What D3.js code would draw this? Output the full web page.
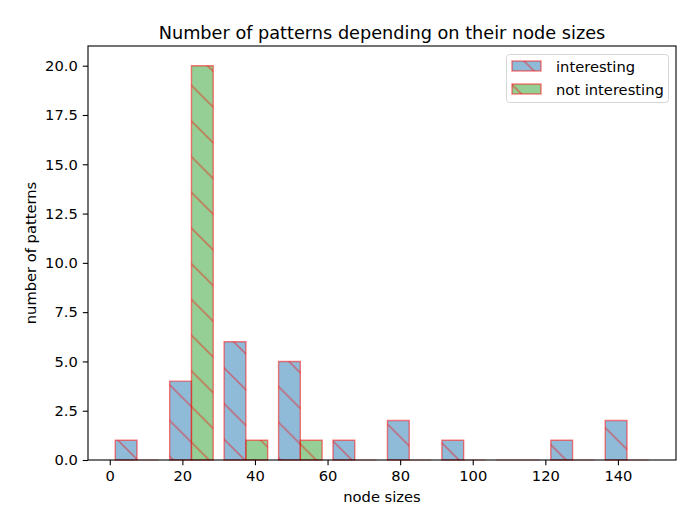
<!DOCTYPE html>
<html>
<head>
<meta charset="utf-8">
<script src="https://cdn.jsdelivr.net/npm/d3@7/dist/d3.min.js"></script>
<style>
  html, body { margin: 0; padding: 0; background: #fff; }
  svg { display: block; font-family: "DejaVu Sans", sans-serif; }
</style>
</head>
<body>
<svg id="chart" width="680" height="518"></svg>
<script>
// ---- data ----
const binEdges = [0, 15, 30, 45, 60, 75, 90, 105, 120, 135, 150];
const interesting = [1, 4, 6, 5, 1, 2, 1, 0, 1, 2];
const notInteresting = [0, 20, 1, 1, 0, 0, 0, 0, 0, 0];
const seriesNames = ["interesting", "not interesting"];
const xTicks = [0, 20, 40, 60, 80, 100, 120, 140];
const yTicks = [0, 2.5, 5, 7.5, 10, 12.5, 15, 17.5, 20];
const titleText = "Number of patterns depending on their node sizes";
const xLabelText = "node sizes";
const yLabelText = "number of patterns";

// ---- layout ----
const W = 680, H = 518;
const L = 88, R = 676, T = 46, B = 460;
const fills = ["rgba(31,119,180,0.5)", "rgba(44,160,44,0.5)"];
const edge = "rgba(255,0,0,0.5)";
const fs = "14.7px", fsTitle = "17.7px";

const svg = d3.select("#chart");
const x = d3.scaleLinear().domain([-6, 156]).range([L, R]);
const y = d3.scaleLinear().domain([0, 21]).range([B, T]);

// hatch pattern (backslash, anchored to page)
const s = 35.7;
const defs = svg.append("defs");
const pat = defs.append("pattern")
  .attr("id", "hatch")
  .attr("patternUnits", "userSpaceOnUse")
  .attr("x", 0).attr("y", 1)
  .attr("width", s).attr("height", s);
pat.append("path")
  .attr("d", `M-3,-3L${s+3},${s+3}M${s-3},-3L${s+3},3M-3,${s-3}L3,${s+3}`)
  .attr("stroke", edge).attr("stroke-width", 1.4).attr("fill", "none");

// bars
const series = [interesting, notInteresting];
const bins = d3.range(binEdges.length - 1).map(i => ({ lo: binEdges[i], hi: binEdges[i + 1] }));
const gBars = svg.append("g");
series.forEach((vals, si) => {
  vals.forEach((v, i) => {
    const bw = bins[i].hi - bins[i].lo;
    const x0 = x(bins[i].lo + bw * 0.1 + si * bw * 0.4);
    const x1 = x(bins[i].lo + bw * 0.1 + (si + 1) * bw * 0.4);
    const y0 = y(0), y1 = y(v);
    if (v > 0) {
      gBars.append("rect").attr("x", x0).attr("y", y1).attr("width", x1 - x0).attr("height", y0 - y1)
        .attr("fill", fills[si]);
      gBars.append("rect").attr("x", x0).attr("y", y1).attr("width", x1 - x0).attr("height", y0 - y1)
        .attr("fill", "url(#hatch)");
    }
    gBars.append("path")
      .attr("d", `M${x0},${y0}V${y1}H${x1}V${y0}Z`)
      .attr("fill", "none").attr("stroke", v > 0 ? edge : "rgba(255,0,0,0.25)").attr("stroke-width", 1.4);
  });
});

// axes
const xAxis = d3.axisBottom(x).tickValues(xTicks).tickSize(5.2).tickPadding(5).tickFormat(d3.format("d"));
const yAxis = d3.axisLeft(y).tickValues(yTicks).tickSize(5.2).tickPadding(5).tickFormat(d3.format(".1f"));
const gx = svg.append("g").attr("transform", `translate(0,${B})`).call(xAxis);
const gy = svg.append("g").attr("transform", `translate(${L},0)`).call(yAxis);
[gx, gy].forEach(g => {
  g.select(".domain").remove();
  g.selectAll(".tick line").attr("stroke", "#000").attr("stroke-width", 1.1);
  g.selectAll(".tick text").attr("fill", "#000").style("font-size", fs).style("font-family", "DejaVu Sans");
});

// spines
svg.append("rect").attr("x", L).attr("y", T).attr("width", R - L).attr("height", B - T)
  .attr("fill", "none").attr("stroke", "#000").attr("stroke-width", 1.1);

// title & labels
svg.append("text").attr("x", (L + R) / 2).attr("y", 39).attr("text-anchor", "middle")
  .style("font-size", fsTitle).attr("fill", "#000").text(titleText);
svg.append("text").attr("x", (L + R) / 2).attr("y", 502).attr("text-anchor", "middle")
  .style("font-size", fs).attr("fill", "#000").text(xLabelText);
svg.append("text").attr("transform", `translate(36,${(T + B) / 2}) rotate(-90)`).attr("text-anchor", "middle")
  .style("font-size", fs).attr("fill", "#000").text(yLabelText);

// legend
const lg = svg.append("g");
lg.append("rect").attr("x", 506.5).attr("y", 54.5).attr("width", 162).attr("height", 48).attr("rx", 3)
  .attr("fill", "rgba(255,255,255,0.8)").attr("stroke", "#d6d6d6").attr("stroke-width", 1);
seriesNames.forEach((name, i) => {
  const py = 61 + i * 23;
  lg.append("rect").attr("x", 512).attr("y", py).attr("width", 29).attr("height", 10).attr("fill", fills[i]);
  lg.append("rect").attr("x", 512).attr("y", py).attr("width", 29).attr("height", 10).attr("fill", "url(#hatch)");
  lg.append("rect").attr("x", 512).attr("y", py).attr("width", 29).attr("height", 10)
    .attr("fill", "none").attr("stroke", edge).attr("stroke-width", 1.4);
  lg.append("text").attr("x", 556).attr("y", py + 10.5).style("font-size", fs).attr("fill", "#000").text(name);
});
</script>
</body>
</html>
